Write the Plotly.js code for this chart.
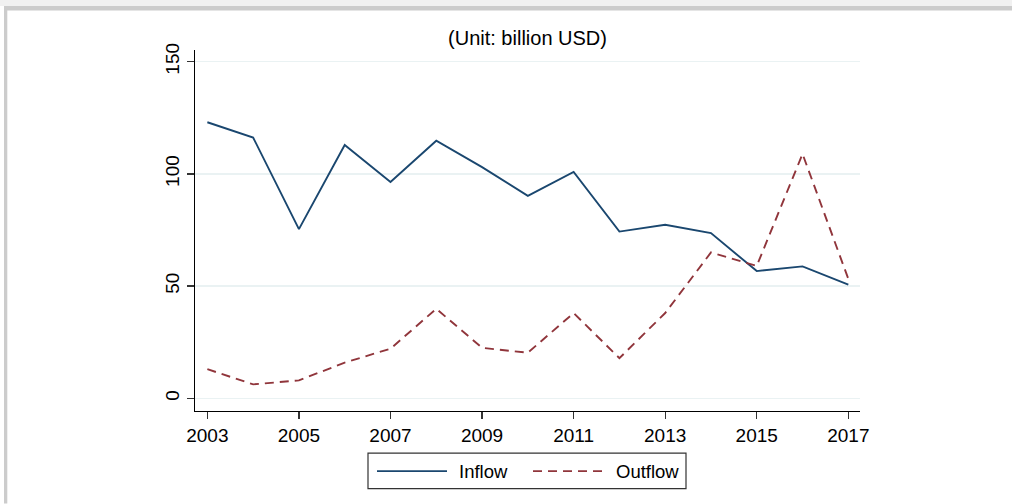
<!DOCTYPE html>
<html>
<head>
<meta charset="utf-8">
<script src="https://cdn.plot.ly/plotly-3.0.1.min.js"></script>
<style>
  html, body { margin: 0; padding: 0; background: #ffffff; }
  #chart { width: 1012px; height: 504px; }
</style>
</head>
<body>
<div id="chart"></div>
<script>
// ---- Data (billion USD) ----
var years = [2003, 2004, 2005, 2006, 2007, 2008, 2009, 2010, 2011, 2012, 2013, 2014, 2015, 2016, 2017];
var inflow = [123.0, 116.2, 75.4, 112.9, 96.4, 114.8, 103.0, 90.2, 100.9, 74.3, 77.3, 73.6, 56.7, 58.8, 50.7];
var outflow = [13.0, 6.2, 8.0, 15.9, 22.1, 39.9, 22.5, 20.3, 38.0, 17.9, 38.0, 65.0, 59.0, 108.9, 53.2];
var seriesNames = ["Inflow", "Outflow"];
var xTickVals = [2003, 2005, 2007, 2009, 2011, 2013, 2015, 2017];
var yTickVals = [0, 50, 100, 150];
var titleText = "(Unit: billion USD)";

// ---- Layout geometry (pixels) ----
var W = 1012, H = 504;
var L = 195, R = 860, T = 50, B = 411.3;
var FONT = "Liberation Sans, Arial, Helvetica, sans-serif";
var colInflow = "#1a476f", colOutflow = "#90353b";

function px(x) { return (x - L) / (R - L); }
function py(y) { return (B - y) / (B - T); }

var traces = [
  { x: years, y: inflow, name: seriesNames[0], type: "scatter", mode: "lines",
    line: { color: colInflow, width: 1.9 }, showlegend: false, hoverinfo: "x+y" },
  { x: years, y: outflow, name: seriesNames[1], type: "scatter", mode: "lines",
    line: { color: colOutflow, width: 1.9, dash: "9px,6px" }, showlegend: false, hoverinfo: "x+y" }
];

var shapes = [
  // top light strip and frame borders
  { type: "rect", xref: "paper", yref: "paper", x0: px(0), x1: px(W), y0: py(0), y1: py(6), fillcolor: "#f1f1f1", line: { width: 0 }, layer: "below" },
  { type: "rect", xref: "paper", yref: "paper", x0: px(4), x1: px(W), y0: py(6), y1: py(10.5), fillcolor: "#cccccc", line: { width: 0 }, layer: "below" },
  { type: "rect", xref: "paper", yref: "paper", x0: px(4), x1: px(7.3), y0: py(6), y1: py(H), fillcolor: "#cccccc", line: { width: 0 }, layer: "below" },
  // legend box
  { type: "rect", xref: "paper", yref: "paper", x0: px(368), x1: px(686), y0: py(453.5), y1: py(489), fillcolor: "#ffffff", line: { color: "#333333", width: 1.2 } },
  // legend samples
  { type: "line", xref: "paper", yref: "paper", x0: px(377), x1: px(447), y0: py(471.5), y1: py(471.5), line: { color: colInflow, width: 1.9 } },
  { type: "line", xref: "paper", yref: "paper", x0: px(533), x1: px(602), y0: py(471.5), y1: py(471.5), line: { color: colOutflow, width: 1.9, dash: "9px,6px" } }
];

var annotations = [
  { xref: "paper", yref: "paper", x: px(457), y: py(471.5), xanchor: "left", yanchor: "middle",
    text: seriesNames[0], showarrow: false, font: { family: FONT, size: 18.5, color: "#000000" } },
  { xref: "paper", yref: "paper", x: px(614), y: py(471.5), xanchor: "left", yanchor: "middle",
    text: seriesNames[1], showarrow: false, font: { family: FONT, size: 18.5, color: "#000000" } }
];

var layout = {
  width: W, height: H,
  margin: { l: L, r: W - R, t: T, b: H - B, pad: 0 },
  paper_bgcolor: "#ffffff", plot_bgcolor: "#ffffff",
  font: { family: FONT, size: 19, color: "#000000" },
  title: { text: titleText, font: { family: FONT, size: 20, color: "#000000" },
           xref: "paper", x: 0.5, xanchor: "center", yref: "container", y: 1 - 38 / H, yanchor: "middle" },
  showlegend: false,
  xaxis: {
    range: [2002.73, 2017.255], tickvals: xTickVals, ticktext: xTickVals.map(String),
    showline: true, linecolor: "#000000", linewidth: 1.3, mirror: false,
    ticks: "outside", ticklen: 7, tickwidth: 1.3, tickcolor: "#333333",
    showgrid: false, zeroline: false, tickfont: { family: FONT, size: 19, color: "#000000" }
  },
  yaxis: {
    range: [-5.65, 155.2], tickvals: yTickVals, ticktext: yTickVals.map(String),
    showline: true, linecolor: "#000000", linewidth: 1.3, mirror: false,
    ticks: "outside", ticklen: 7, tickwidth: 1.3, tickcolor: "#333333",
    showgrid: true, gridcolor: "#eaf2f3", gridwidth: 1.5, zeroline: false,
    tickangle: -90, tickfont: { family: FONT, size: 19, color: "#000000" }
  },
  shapes: shapes,
  annotations: annotations
};

Plotly.newPlot("chart", traces, layout, { displayModeBar: false, staticPlot: true });
</script>
</body>
</html>
